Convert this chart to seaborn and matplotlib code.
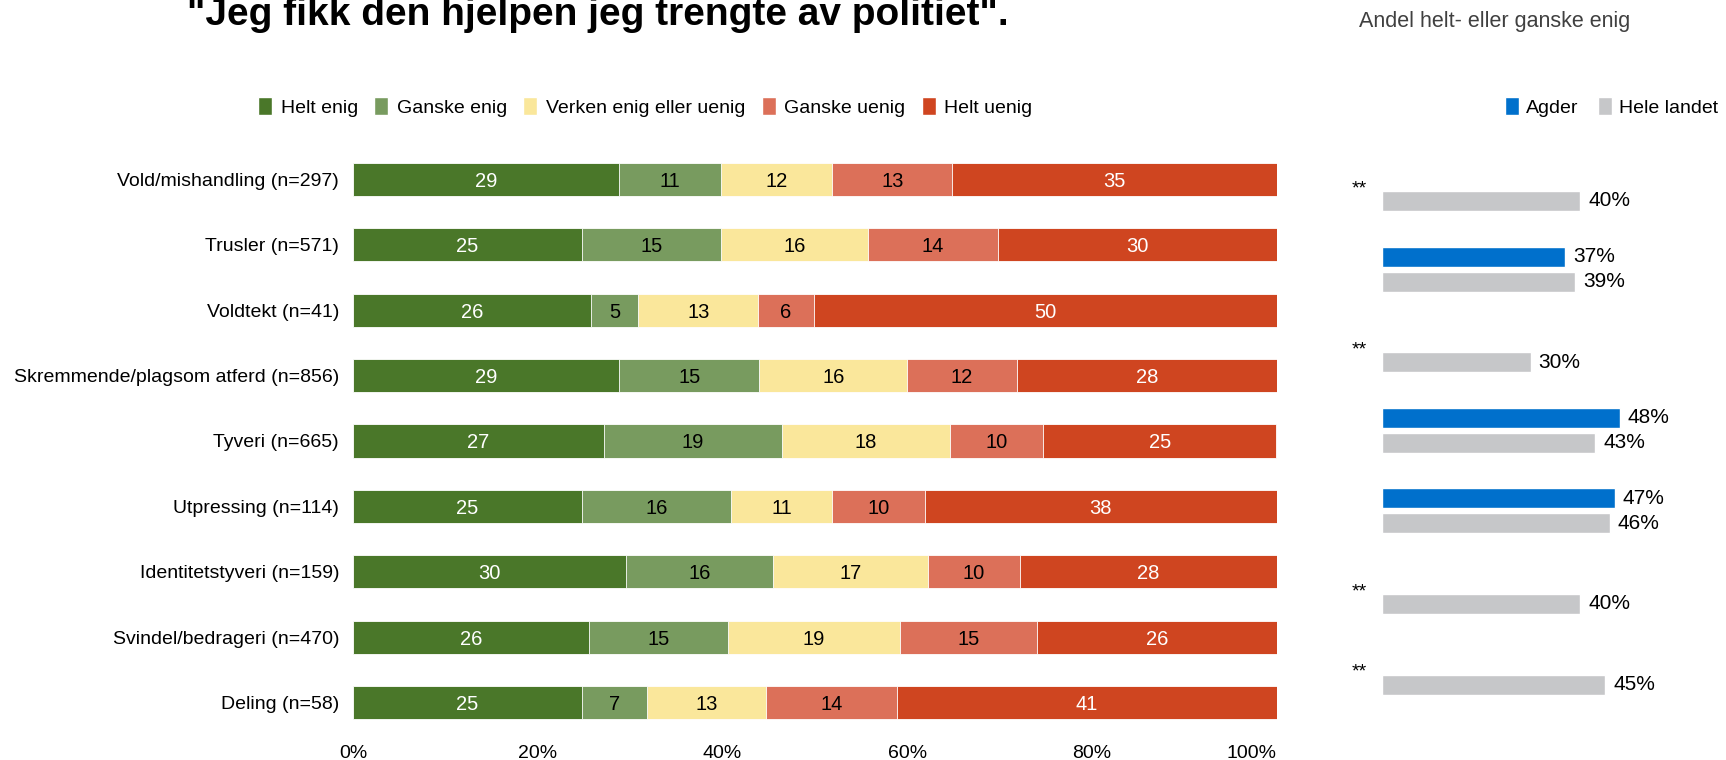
import numpy as np
import pandas as pd
import seaborn as sns
import matplotlib.pyplot as plt
from matplotlib.patches import Patch

# venstre panel: fordeling av svar (prosent)
kategorier = ["Vold/mishandling (n=297)", "Trusler (n=571)", "Voldtekt (n=41)",
              "Skremmende/plagsom atferd (n=856)", "Tyveri (n=665)", "Utpressing (n=114)",
              "Identitetstyveri (n=159)", "Svindel/bedrageri (n=470)", "Deling (n=58)"]
svar = ["Helt enig", "Ganske enig", "Verken enig eller uenig", "Ganske uenig", "Helt uenig"]
helt_enig    = [28.8, 24.8, 25.8, 28.8, 27.2, 24.8, 29.6, 25.6, 24.8]
ganske_enig  = [11.1, 15.1, 5.1, 15.2, 19.2, 16.1, 15.9, 15.0, 7.0]
verken       = [12.0, 15.9, 13.0, 16.0, 18.2, 11.0, 16.8, 18.6, 12.9]
ganske_uenig = [13.0, 14.0, 6.0, 11.9, 10.1, 10.0, 9.9, 14.9, 14.2]
helt_uenig   = [35.1, 30.2, 50.1, 28.1, 25.3, 38.1, 27.8, 25.9, 41.1]

# høyre panel: andel helt- eller ganske enig
kategorier_h = ["Vold/mishandling", "Trusler", "Voldtekt", "Skremmende/plagsom atferd",
                "Tyveri", "Utpressing", "Identitetstyveri"]
agder       = [np.nan, 37, np.nan, 48, 47, np.nan, np.nan]
hele_landet = [40, 39, 30, 43, 46, 40, 45]
regioner = ["Agder", "Hele landet"]

farger = ["#4a7729", "#789b5f", "#fae79b", "#dc7059", "#cf4520"]
tekstfarger = ["white", "black", "black", "black", "white"]
farger_h = ["#0070cc", "#c6c7c9"]

sns.set_style("white")
plt.rcParams["font.family"] = ["Liberation Sans", "DejaVu Sans"]
plt.rcParams["text.color"] = "black"
plt.rcParams["xtick.color"] = "black"
plt.rcParams["ytick.color"] = "black"

W, H = 1726, 760
def px(x0, y0, x1, y1):
    return [x0 / W, 1 - y1 / H, (x1 - x0) / W, (y1 - y0) / H]

fig = plt.figure(figsize=(W / 100, H / 100), dpi=100)
ax = fig.add_axes(px(353, 146.8, 1276.5, 735.2))
ax2 = fig.add_axes(px(1381.7, 148.2, 1726, 712.4))

df = pd.DataFrame({"kategori": kategorier, svar[0]: helt_enig, svar[1]: ganske_enig,
                   svar[2]: verken, svar[3]: ganske_uenig, svar[4]: helt_uenig})
kum = df[svar].cumsum(axis=1)

# stablet: tegn kumulative summer bakfra
for s, c in reversed(list(zip(svar, farger))):
    sns.barplot(x=kum[s], y=df["kategori"], color=c, saturation=1, width=0.505,
                edgecolor="white", linewidth=0.6, orient="h", ax=ax)

for i in range(len(df)):
    for s, tc in zip(svar, tekstfarger):
        v = df.loc[i, s]
        ax.text(kum.loc[i, s] - v / 2, i, f"{v:.0f}", ha="center", va="center_baseline",
                color=tc, fontsize=14.5)

ticks = [0, 20, 40, 60, 80, 100]
ax.set_xlim(0, 100)
ax.set_xticks(ticks)
ax.set_xticklabels([f"{t}%" for t in ticks], fontsize=14)
ax.get_xticklabels()[-1].set_ha("right")
ax.tick_params(axis="x", length=0, pad=7)
ax.tick_params(axis="y", length=0, pad=10, labelsize=14)
ax.set_xlabel("")
ax.set_ylabel("")
sns.despine(ax=ax, left=True, bottom=True)

df_h = pd.DataFrame({"kategori": kategorier_h * 2,
                     "region": [regioner[0]] * 7 + [regioner[1]] * 7,
                     "andel": agder + hele_landet}).dropna()
sns.barplot(data=df_h, x="andel", y="kategori", hue="region", order=kategorier_h,
            hue_order=regioner, palette=farger_h, saturation=1, width=0.62, gap=0.2,
            orient="h", legend=False, ax=ax2)
for cont in ax2.containers:
    ax2.bar_label(cont, fmt="%.0f%%", padding=5.8, fontsize=15)
for i, a in enumerate(agder):
    if np.isnan(a):
        ax2.text(-6, i + 0.06, "**", ha="left", va="baseline", fontsize=14, clip_on=False)
ax2.set_xlim(0, 69.4)
ax2.axis("off")

fig.text(187 / W, 1 - 25 / H, "\"Jeg fikk den hjelpen jeg trengte av politiet\".",
         fontsize=28, fontweight="bold", ha="left", va="baseline")
fig.text(1359 / W, 1 - 22 / H, "Andel helt- eller ganske enig", fontsize=15.5,
         color="#404040", ha="left", va="center")

h1 = [Patch(facecolor=c, label=s) for s, c in zip(svar, farger)]
fig.legend(handles=h1, loc="center left", bbox_to_anchor=(258 / W, 1 - 107 / H), ncol=5,
           frameon=False, fontsize=14, handlelength=0.72, handleheight=1.0,
           handletextpad=0.46, columnspacing=0.82, borderpad=0, borderaxespad=0)
h2 = [Patch(facecolor=c, label=r) for r, c in zip(regioner, farger_h)]
fig.legend(handles=h2, loc="center left", bbox_to_anchor=(1505 / W, 1 - 107 / H), ncol=2,
           frameon=False, fontsize=14, handlelength=0.72, handleheight=1.0,
           handletextpad=0.36, columnspacing=1.0, borderpad=0, borderaxespad=0)

fig.savefig("out.png", dpi=100)
